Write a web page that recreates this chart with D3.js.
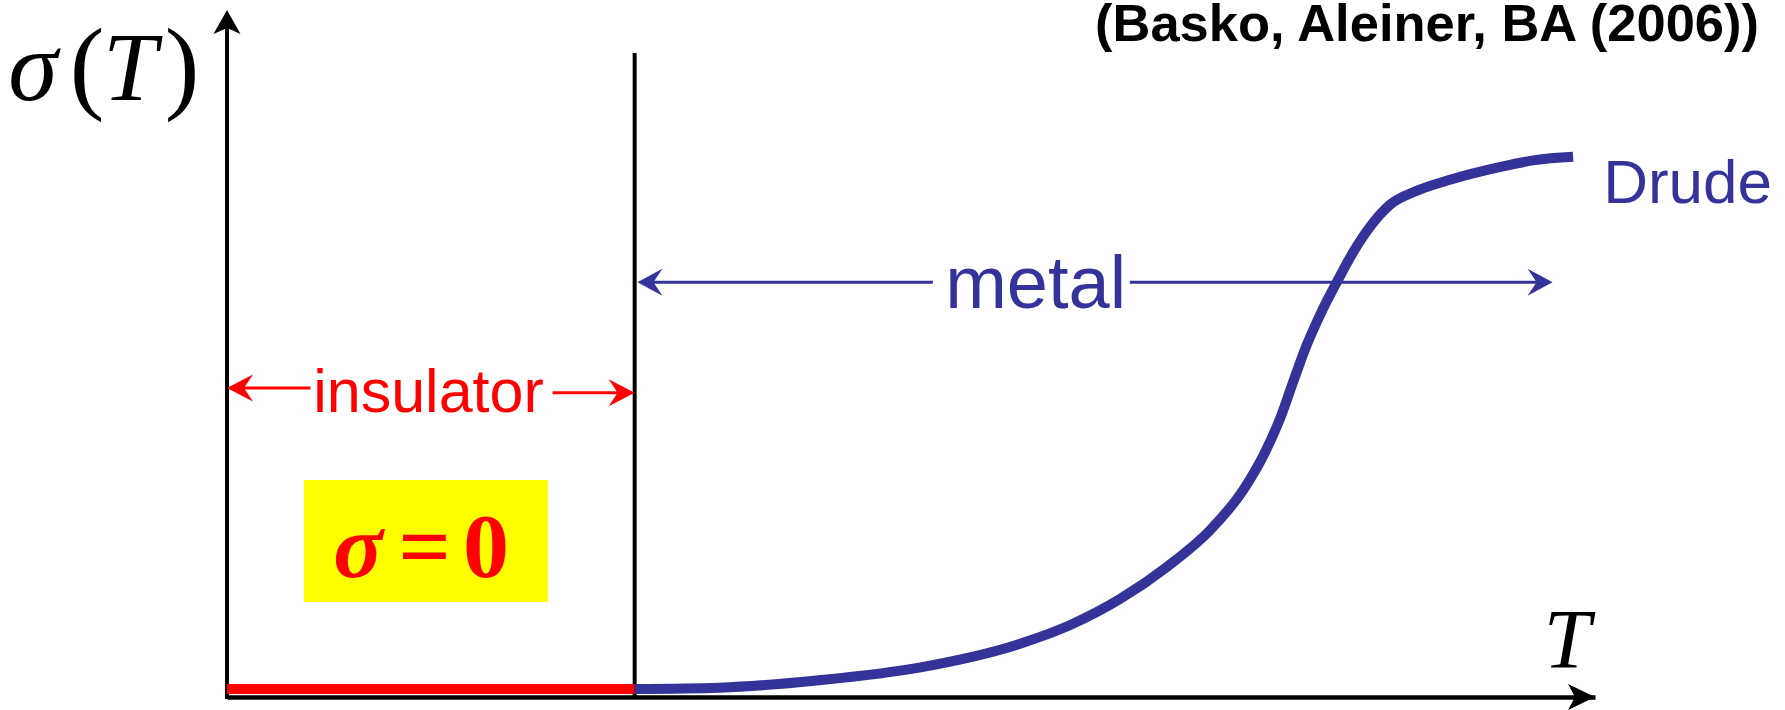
<!DOCTYPE html>
<html>
<head>
<meta charset="utf-8">
<script src="https://cdn.jsdelivr.net/npm/d3@7"></script>
<style>
  html, body { margin: 0; padding: 0; background: #ffffff; }
  svg { display: block; }
  .sans { font-family: "Liberation Sans", Arial, Helvetica, sans-serif; }
  .serif { font-family: "Liberation Serif", "Times New Roman", serif; }
</style>
</head>
<body>
<svg id="chart" width="1785" height="710"></svg>
<script>
// Conductivity versus temperature: insulator below T_c, metal above, Drude limit at high T.
const Tc = 2.98;                // insulator–metal transition temperature
const wallTop = 9.38;           // top of the vertical T_c line (sigma units)

// Insulating branch: sigma = 0 up to T_c
const insulatorT = [0, 2.98];
const insulatorSigma = [0, 0];

// Metallic branch rising to the Drude value
const metalT =     [2.98, 3.60, 4.33, 5.07, 5.77, 6.16, 6.53, 6.87, 7.19, 7.43, 7.59, 7.70, 7.79, 7.89, 8.00, 8.12, 8.24, 8.36, 8.50, 8.70, 8.94, 9.31, 9.56, 9.84];
const metalSigma = [0.00, 0.02, 0.13, 0.32, 0.65, 0.94, 1.33, 1.80, 2.35, 2.94, 3.50, 4.00, 4.51, 5.06, 5.56, 6.03, 6.47, 6.83, 7.14, 7.35, 7.51, 7.70, 7.80, 7.85];

// Region annotations (double-headed arrows split around their labels)
const insulatorLabel = "insulator";
const insulatorArrowL = { tip: 0.00, end: 0.61, sigma: 4.44 };
const insulatorArrowR = { start: 2.38, tip: 2.98, sigma: 4.37 };
const insulatorText = { T: 0.63, sigma: 4.09 };

const metalLabel = "metal";
const metalArrowL = { tip: 3.00, end: 5.16, sigma: 6.00 };
const metalArrowR = { start: 6.60, tip: 9.69, sigma: 6.00 };
const metalText = { T: 5.25, sigma: 5.62 };

const drudeLabel = "Drude";
const drudeText = { T: 10.06, sigma: 7.17 };

const citation = "(Basko, Aleiner, BA (2006))";

const RED = "#ff0000";
const BLUE = "#333399";

const svg = d3.select("#chart");

const x = d3.scaleLinear().domain([0, 10]).range([227, 1595]);
const y = d3.scaleLinear().domain([0, 10]).range([689, 11]);

const axisY = y(0) + 8;  // axis sits just beneath the sigma = 0 line

// Arrowhead with a notched back; (dx, dy) is the unit direction it points to
function arrowHead(tx, ty, dx, dy, len, half, notch) {
  const bx = tx - dx * len, by = ty - dy * len;
  const nx = tx - dx * (len - notch), ny = ty - dy * (len - notch);
  const px = -dy, py = dx;
  return `M${tx},${ty}L${bx + px * half},${by + py * half}L${nx},${ny}L${bx - px * half},${by - py * half}Z`;
}

// ---- Axes (no ticks: a schematic plot) ----
const xAxis = d3.axisBottom(x).tickValues([]).tickSizeOuter(0);
const gx = svg.append("g").attr("transform", `translate(0,${axisY})`).call(xAxis);
gx.select(".domain").attr("stroke", "#000").attr("stroke-width", 4.5);

svg.append("line")
  .attr("x1", x(0)).attr("x2", x(0))
  .attr("y1", axisY + 2).attr("y2", y(10) + 10)
  .attr("stroke", "#000").attr("stroke-width", 4);

svg.append("path")
  .attr("d", arrowHead(x(0), y(10) - 1, 0, -1, 24, 13.5, 6))
  .attr("fill", "#000");
svg.append("path")
  .attr("d", arrowHead(x(10), axisY, 1, 0, 27, 13, 7))
  .attr("fill", "#000");

// Axis labels
svg.append("text").attr("class", "serif")
  .attr("x", x(10) - 28).attr("y", 668)
  .attr("text-anchor", "middle").attr("font-style", "italic")
  .attr("font-size", 84).text("T");

const ylab = svg.append("g").attr("class", "serif");
ylab.append("text").attr("x", 33).attr("y", 100).attr("text-anchor", "middle")
  .attr("font-style", "italic").attr("font-size", 100).text("σ");
ylab.append("text").attr("x", 87).attr("y", 100).attr("text-anchor", "middle")
  .attr("font-size", 104).text("(");
ylab.append("text").attr("x", 130).attr("y", 100).attr("text-anchor", "middle")
  .attr("font-style", "italic").attr("font-size", 97).text("T");
ylab.append("text").attr("x", 182).attr("y", 100).attr("text-anchor", "middle")
  .attr("font-size", 104).text(")");

// ---- T_c wall ----
svg.append("line")
  .attr("x1", x(Tc)).attr("x2", x(Tc))
  .attr("y1", y(wallTop)).attr("y2", axisY)
  .attr("stroke", "#000").attr("stroke-width", 4);

// ---- sigma = 0 box ----
const box = svg.append("g");
box.append("rect")
  .attr("x", 304).attr("y", 480).attr("width", 244).attr("height", 122)
  .attr("fill", "#ffff00");
const eq = box.append("g").attr("class", "serif").attr("fill", RED).attr("font-weight", "bold");
eq.append("text").attr("x", 358).attr("y", 577).attr("text-anchor", "middle")
  .attr("font-style", "italic").attr("font-size", 92).text("σ");
eq.append("text").attr("x", 424).attr("y", 577).attr("text-anchor", "middle")
  .attr("font-style", "italic").attr("font-size", 92).text("=");
eq.append("text").attr("x", 486).attr("y", 577).attr("text-anchor", "middle")
  .attr("font-size", 92).text("0");

// ---- Conductivity curves ----
const line = d3.line().x(d => x(d[0])).y(d => y(d[1]));

svg.append("path")
  .datum(d3.zip(insulatorT, insulatorSigma))
  .attr("d", line)
  .attr("fill", "none").attr("stroke", RED).attr("stroke-width", 10);

svg.append("path")
  .datum(d3.zip(metalT, metalSigma))
  .attr("d", line.curve(d3.curveMonotoneX))
  .attr("fill", "none").attr("stroke", BLUE).attr("stroke-width", 10);

// ---- Insulator annotation ----
const ins = svg.append("g");
ins.append("line")
  .attr("x1", x(insulatorArrowL.tip) + 10).attr("x2", x(insulatorArrowL.end))
  .attr("y1", y(insulatorArrowL.sigma)).attr("y2", y(insulatorArrowL.sigma))
  .attr("stroke", RED).attr("stroke-width", 3);
ins.append("path")
  .attr("d", arrowHead(x(insulatorArrowL.tip), y(insulatorArrowL.sigma), -1, 0, 26, 13.5, 9))
  .attr("fill", RED);
ins.append("line")
  .attr("x1", x(insulatorArrowR.start)).attr("x2", x(insulatorArrowR.tip) - 10)
  .attr("y1", y(insulatorArrowR.sigma)).attr("y2", y(insulatorArrowR.sigma))
  .attr("stroke", RED).attr("stroke-width", 3);
ins.append("path")
  .attr("d", arrowHead(x(insulatorArrowR.tip), y(insulatorArrowR.sigma), 1, 0, 26, 13.5, 9))
  .attr("fill", RED);
ins.append("text").attr("class", "sans")
  .attr("x", x(insulatorText.T)).attr("y", y(insulatorText.sigma))
  .attr("font-size", 61).attr("fill", RED).text(insulatorLabel);

// ---- Metal annotation ----
const met = svg.append("g");
met.append("line")
  .attr("x1", x(metalArrowL.tip) + 10).attr("x2", x(metalArrowL.end))
  .attr("y1", y(metalArrowL.sigma)).attr("y2", y(metalArrowL.sigma))
  .attr("stroke", BLUE).attr("stroke-width", 3);
met.append("path")
  .attr("d", arrowHead(x(metalArrowL.tip), y(metalArrowL.sigma), -1, 0, 25, 13.5, 9))
  .attr("fill", BLUE);
met.append("line")
  .attr("x1", x(metalArrowR.start)).attr("x2", x(metalArrowR.tip) - 10)
  .attr("y1", y(metalArrowR.sigma)).attr("y2", y(metalArrowR.sigma))
  .attr("stroke", BLUE).attr("stroke-width", 3);
met.append("path")
  .attr("d", arrowHead(x(metalArrowR.tip), y(metalArrowR.sigma), 1, 0, 25, 13.5, 9))
  .attr("fill", BLUE);
met.append("text").attr("class", "sans")
  .attr("x", x(metalText.T)).attr("y", y(metalText.sigma))
  .attr("font-size", 74).attr("fill", BLUE).text(metalLabel);

// ---- Drude label ----
svg.append("text").attr("class", "sans")
  .attr("x", x(drudeText.T)).attr("y", y(drudeText.sigma))
  .attr("font-size", 62).attr("fill", BLUE).text(drudeLabel);

// ---- Citation ----
svg.append("text").attr("class", "sans")
  .attr("x", 1095).attr("y", 41)
  .attr("font-size", 52).attr("font-weight", "bold")
  .attr("textLength", 664).attr("lengthAdjust", "spacingAndGlyphs")
  .text(citation);
</script>
</body>
</html>
